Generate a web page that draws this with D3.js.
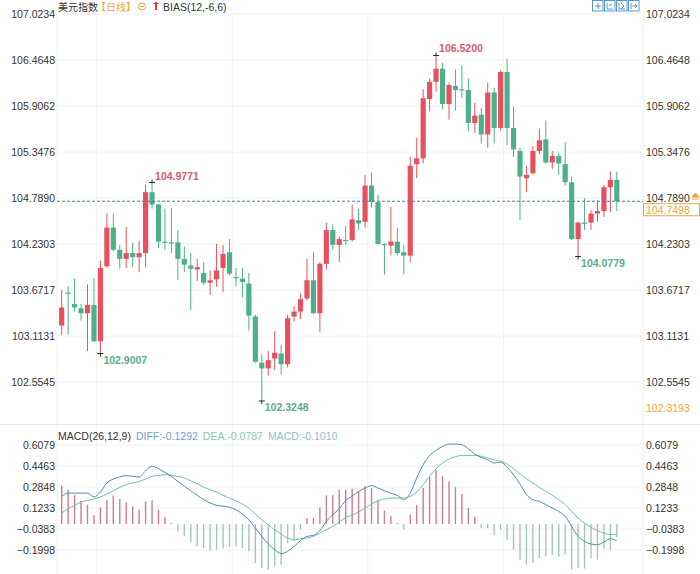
<!DOCTYPE html>
<html><head><meta charset="utf-8">
<script src="https://cdn.jsdelivr.net/npm/d3@7"></script>
<style>
html,body{margin:0;padding:0;background:#fff;}
svg{display:block;font-family:"Liberation Sans",Arial,sans-serif;}
</style></head><body>
<svg id="c" width="700" height="574"></svg>
<script>
// ---------- DATA ----------
const opens=[103.24,103.64,103.50,103.45,103.39,103.49,103.05,103.96,104.43,104.16,
104.05,104.12,104.07,104.12,104.86,104.71,104.26,104.25,104.25,104.05,
103.97,103.92,103.88,103.76,103.80,103.94,104.13,103.83,103.81,103.75,
103.35,102.79,102.72,102.84,102.90,102.77,103.35,103.41,103.57,103.79,
103.39,103.99,104.40,104.22,104.28,104.28,104.52,104.50,104.94,104.74,
104.23,104.21,104.26,104.13,104.09,105.20,105.27,105.99,106.20,106.36,
105.93,106.15,106.11,106.10,105.70,105.80,105.56,106.07,105.64,106.32,
105.64,105.36,105.03,105.09,105.36,105.50,105.22,105.30,105.20,104.98,
104.29,104.49,104.49,104.60,104.63,104.92,105.01];
const highs=[103.67,103.72,103.81,103.50,103.74,103.82,104.03,104.60,104.60,104.22,
104.44,104.25,104.27,104.95,104.9771,104.72,104.66,104.67,104.40,104.20,
104.12,104.05,104.01,103.91,104.23,104.22,104.29,103.94,103.94,103.88,
103.37,102.89,102.93,103.17,103.01,103.37,103.48,103.63,104.05,104.13,
104.01,104.49,104.47,104.32,104.45,104.71,104.66,105.07,105.10,104.83,
104.24,104.68,104.43,104.22,105.29,105.52,106.11,106.24,106.52,106.43,
106.19,106.35,106.40,106.24,105.95,105.88,106.19,106.13,106.34,106.48,
105.90,105.40,105.18,105.42,105.63,105.73,105.36,105.34,105.47,105.05,
104.50,104.79,104.64,104.76,104.95,105.11,105.11];
const lows=[103.13,103.13,103.41,103.30,102.93,103.04,102.9007,103.94,104.14,103.93,
103.94,103.95,103.89,103.95,104.66,104.18,104.16,104.12,103.79,103.89,
103.43,103.78,103.73,103.61,103.71,103.65,103.85,103.72,103.58,103.18,
102.79,102.3248,102.63,102.70,102.65,102.73,103.29,103.32,103.55,103.38,
103.16,103.92,104.16,104.01,104.22,104.26,104.40,104.43,104.67,104.22,
103.86,104.09,104.09,103.86,104.01,105.03,105.21,105.84,106.08,105.87,
105.74,105.85,106.00,105.60,105.58,105.45,105.40,105.45,105.61,105.43,
105.29,104.52,104.86,105.07,105.32,105.21,105.14,105.07,104.94,104.28,
104.0779,104.40,104.40,104.50,104.56,104.62,104.63];
const closes=[103.46,103.63,103.46,103.39,103.49,103.05,103.94,104.43,104.16,104.05,
104.12,104.07,104.12,104.86,104.71,104.26,104.25,104.24,104.05,103.98,
103.93,103.95,103.76,103.79,103.91,104.11,103.87,103.82,103.77,103.36,
102.80,102.72,102.82,102.91,102.77,103.33,103.41,103.56,103.79,103.39,
103.99,104.40,104.22,104.29,104.27,104.53,104.48,104.94,104.74,104.23,
104.22,104.26,104.12,104.09,105.18,105.27,106.00,106.20,106.36,105.93,
106.16,106.10,106.10,105.70,105.79,105.56,106.07,105.64,106.32,105.64,
105.38,105.05,105.07,105.36,105.49,105.22,105.30,105.21,104.98,104.29,
104.49,104.48,104.60,104.63,104.92,105.01,104.7498];
const diffs=[0.213,0.238,0.238,0.238,0.238,0.208,0.246,0.315,0.346,0.362,
0.372,0.367,0.362,0.410,0.444,0.426,0.397,0.367,0.328,0.290,
0.256,0.221,0.187,0.162,0.144,0.138,0.128,0.110,0.077,0.033,
-0.031,-0.095,-0.154,-0.197,-0.228,-0.210,-0.172,-0.128,-0.095,-0.087,
-0.051,0.021,0.072,0.118,0.180,0.215,0.250,0.277,0.295,0.277,
0.256,0.236,0.221,0.187,0.238,0.354,0.456,0.528,0.567,0.597,
0.615,0.615,0.610,0.579,0.538,0.513,0.495,0.469,0.477,0.436,
0.379,0.308,0.226,0.187,0.174,0.149,0.123,0.097,0.059,-0.018,
-0.095,-0.133,-0.154,-0.159,-0.138,-0.113,-0.1292];
const deas=[0.085,0.118,0.144,0.169,0.182,0.192,0.208,0.231,0.256,0.282,
0.303,0.315,0.328,0.346,0.367,0.374,0.379,0.374,0.367,0.354,
0.333,0.310,0.285,0.264,0.246,0.221,0.200,0.179,0.154,0.123,
0.077,0.033,-0.005,-0.044,-0.077,-0.108,-0.121,-0.113,-0.108,-0.095,
-0.069,-0.044,-0.018,0.015,0.050,0.068,0.092,0.123,0.154,0.179,
0.192,0.200,0.200,0.200,0.213,0.246,0.303,0.367,0.426,0.469,
0.500,0.518,0.528,0.528,0.528,0.521,0.508,0.495,0.482,0.462,
0.426,0.385,0.349,0.315,0.282,0.251,0.221,0.187,0.149,0.097,
0.046,0.008,-0.026,-0.051,-0.069,-0.082,-0.0787];
const macds=[0.295,0.264,0.221,0.179,0.149,0.067,0.128,0.182,0.218,0.192,
0.167,0.136,0.110,0.174,0.182,0.110,0.054,0.008,-0.056,-0.095,
-0.138,-0.172,-0.185,-0.205,-0.197,-0.190,-0.179,-0.172,-0.185,-0.210,
-0.300,-0.338,-0.351,-0.326,-0.313,-0.146,-0.133,-0.044,0.046,0.046,
0.128,0.221,0.221,0.264,0.264,0.272,0.256,0.290,0.277,0.187,
0.103,0.059,0.008,-0.044,0.072,0.144,0.277,0.362,0.413,0.367,
0.328,0.285,0.231,0.123,0.054,-0.031,-0.031,-0.087,-0.044,-0.121,
-0.197,-0.274,-0.313,-0.300,-0.262,-0.249,-0.236,-0.249,-0.236,-0.351,
-0.338,-0.344,-0.262,-0.274,-0.190,-0.197,-0.101];
const priceTicks=[107.0234,106.4648,105.9062,105.3476,104.7890,104.2303,103.6717,103.1131,102.5545];
const priceMin=102.3193, lastPrice=104.7498;
const macdTicks=[0.6079,0.4463,0.2848,0.1233,-0.0383,-0.1998];
const monthStarts=[6,27,48,69];
const extremes=[{i:14,v:104.9771,t:"high"},{i:58,v:106.52,t:"high"},
{i:6,v:102.9007,t:"low"},{i:31,v:102.3248,t:"low"},{i:80,v:104.0779,t:"low"}];
const title="美元指数", period="【日线】", indicator="BIAS(12,-6,6)";
const macdLegend=[{t:"MACD(26,12,9)",c:"#333"},{t:"DIFF:-0.1292",c:"#6f9fd2"},{t:"DEA:-0.0787",c:"#86c9ab"},{t:"MACD:-0.1010",c:"#8dbcd9"}];

// ---------- LAYOUT ----------
const RED="#e9505e", GREEN="#4cb088";
const svg=d3.select("#c");
const L=57, R=643;
const n=closes.length;
const x=d3.scaleBand().domain(d3.range(n)).range([57.8,620.7]).padding(0.2);
const cx=i=>x(i)+x.bandwidth()/2;
const y=d3.scaleLinear().domain([priceMin,107.0234]).range([401.4,14]);
const ym=d3.scaleLinear().domain([-0.1998,0.6079]).range([550,445]);

// grid
const g=svg.append("g");
g.selectAll(".hg").data(priceTicks).join("line").attr("x1",L).attr("x2",R)
 .attr("y1",d=>y(d)).attr("y2",d=>y(d)).attr("stroke","#f2f2f2");
g.selectAll(".hm").data(macdTicks).join("line").attr("x1",L).attr("x2",R)
 .attr("y1",d=>ym(d)).attr("y2",d=>ym(d)).attr("stroke","#f2f2f2");
g.selectAll(".vg").data(monthStarts).join("line")
 .attr("x1",d=>x(d)-x.step()*x.paddingInner()/2-0.5).attr("x2",d=>x(d)-x.step()*x.paddingInner()/2-0.5)
 .attr("y1",14).attr("y2",574).attr("stroke","#f2f2f2");
g.append("line").attr("x1",L).attr("x2",L).attr("y1",14).attr("y2",574).attr("stroke","#eeeeee");
g.append("line").attr("x1",R).attr("x2",R).attr("y1",14).attr("y2",574).attr("stroke","#eeeeee");
g.append("line").attr("x1",0).attr("x2",700).attr("y1",424.5).attr("y2",424.5).attr("stroke","#e8e8e8");

// axes
const fmt=d3.format(".4f");
function styleAxis(sel){sel.select(".domain").remove();sel.selectAll("line").remove();
 sel.selectAll("text").attr("fill","#333").style("font-size","10.5px").style("font-family",'"Liberation Sans",Arial,sans-serif');}
svg.append("g").attr("transform","translate(55,0)").call(d3.axisLeft(y).tickValues(priceTicks).tickFormat(fmt).tickSize(0).tickPadding(0)).call(styleAxis);
svg.append("g").attr("transform","translate(646,0)").call(d3.axisRight(y).tickValues(priceTicks).tickFormat(fmt).tickSize(0).tickPadding(0)).call(styleAxis);
svg.append("g").attr("transform","translate(55,0)").call(d3.axisLeft(ym).tickValues(macdTicks).tickFormat(fmt).tickSize(0).tickPadding(0)).call(styleAxis);
svg.append("g").attr("transform","translate(646,0)").call(d3.axisRight(ym).tickValues(macdTicks).tickFormat(fmt).tickSize(0).tickPadding(0)).call(styleAxis);

// candles
const idx=d3.range(n);
const cg=svg.append("g");
cg.selectAll(".w").data(idx).join("line")
 .attr("x1",cx).attr("x2",cx).attr("y1",i=>y(highs[i])).attr("y2",i=>y(lows[i]))
 .attr("stroke",i=>closes[i]>=opens[i]?RED:GREEN).attr("stroke-width",1);
cg.selectAll(".b").data(idx).join("rect")
 .attr("x",i=>x(i)).attr("width",x.bandwidth())
 .attr("y",i=>y(Math.max(opens[i],closes[i])))
 .attr("height",i=>Math.max(1.2,Math.abs(y(opens[i])-y(closes[i]))))
 .attr("fill",i=>closes[i]>=opens[i]?RED:GREEN);

// last price dashed line
svg.append("line").attr("x1",L).attr("x2",R).attr("y1",y(lastPrice)).attr("y2",y(lastPrice))
 .attr("stroke","#4d7f9e").attr("stroke-dasharray","3,2").attr("stroke-width",1);
svg.append("rect").attr("x",643.5).attr("y",y(lastPrice)+2.5).attr("width",56).attr("height",12)
 .attr("fill","#fff").attr("stroke","#e9a640");
svg.append("text").attr("x",646).attr("y",y(lastPrice)+12.5).text(fmt(lastPrice))
 .attr("fill","#e9a640").style("font-size","10.5px");
svg.append("text").attr("x",646).attr("y",412).text(fmt(priceMin))
 .attr("fill","#e9a640").style("font-size","10.5px");
// small orange marker next to right label
svg.append("path").attr("d","M692,197 L695.5,193 L699,197 Z M692,199 L699,199").attr("fill","#e9a640").attr("stroke","#e9a640").attr("stroke-width",1);

// extremes
const eg=svg.append("g");
extremes.forEach(e=>{
 const px=cx(e.i), py=y(e.v);
 eg.append("line").attr("x1",px-3).attr("x2",px+3).attr("y1",py).attr("y2",py).attr("stroke","#222");
 eg.append("line").attr("x1",px).attr("x2",px).attr("y1",e.t==="high"?py-3:py).attr("y2",e.t==="high"?py:py+3).attr("stroke","#222");
 eg.append("text").attr("x",px+3).attr("y",e.t==="high"?py-3:py+10)
  .text(fmt(e.v)).attr("fill",e.t==="high"?"#d45d6b":"#5dab8d")
  .style("font-size","10.5px").style("font-weight","bold");
});

// header
const hdr=svg.append("g").style("font-size","10px");
hdr.append("text").attr("x",58).attr("y",11).text(title).attr("fill","#333").style("font-family",'"Noto Sans CJK SC",sans-serif');
hdr.append("text").attr("x",96).attr("y",11).text(period).attr("fill","#e9a640").style("font-family",'"Noto Sans CJK SC",sans-serif');
hdr.append("circle").attr("cx",142).attr("cy",6.5).attr("r",3.5).attr("fill","none").attr("stroke","#e9a640");
hdr.append("line").attr("x1",140).attr("x2",144).attr("y1",6.5).attr("y2",6.5).attr("stroke","#e9a640");
hdr.append("path").attr("d","M153,4 L156,1.5 L159,4 L157,4 L157,10 L155,10 L155,4 Z").attr("fill","#d9403e");
hdr.append("text").attr("x",163).attr("y",10.5).text(indicator).attr("fill","#333").style("font-size","10.5px");
// top-right tool icons
[592,604,616,628].forEach((bx,k)=>{
 const ig=svg.append("g").attr("stroke","#4a8cc4").attr("fill","none").attr("stroke-width",0.9);
 ig.append("rect").attr("x",bx+0.5).attr("y",0.5).attr("width",10.5).attr("height",10.5);
 if(k===0){ig.append("path").attr("d",`M${bx+3},6 L${bx+9},6 M${bx+6},3 L${bx+6},9`);}
 if(k===1){ig.append("path").attr("d",`M${bx+3},3 L${bx+3},9 L${bx+9},9 M${bx+5},5 L${bx+8},5`);}
 if(k===2){ig.append("path").attr("d",`M${bx+3},3 L${bx+3},9 L${bx+9},9 M${bx+5},3 L${bx+8},6 L${bx+5},9`);}
 if(k===3){ig.append("path").attr("d",`M${bx+3},3 L${bx+3},9 M${bx+4},6 L${bx+9},6 M${bx+7},4 L${bx+9},6 L${bx+7},8`);}
});

// MACD legend
let lx=58;
const lg=svg.append("g").style("font-size","10.5px");
macdLegend.forEach(d=>{
 const t=lg.append("text").attr("x",lx).attr("y",440).text(d.t).attr("fill",d.c);
 lx+=t.node().getComputedTextLength()+5;
});

// MACD bars
const z=ym(0);
svg.append("g").selectAll("line").data(idx).join("line")
 .attr("x1",cx).attr("x2",cx).attr("y1",z).attr("y2",i=>ym(macds[i]))
 .attr("stroke",i=>macds[i]>=0?"#c97f8c":"#9fc8b5").attr("stroke-width",1.4);
// MACD lines
const lineGen=arr=>d3.line().x(i=>cx(i)).y(i=>ym(arr[i])).curve(d3.curveMonotoneX)(idx);
svg.append("path").attr("d",lineGen(deas)).attr("fill","none").attr("stroke","#72bfa6").attr("stroke-width",1);
svg.append("path").attr("d",lineGen(diffs)).attr("fill","none").attr("stroke","#4f8daa").attr("stroke-width",1);
</script>
</body></html>
